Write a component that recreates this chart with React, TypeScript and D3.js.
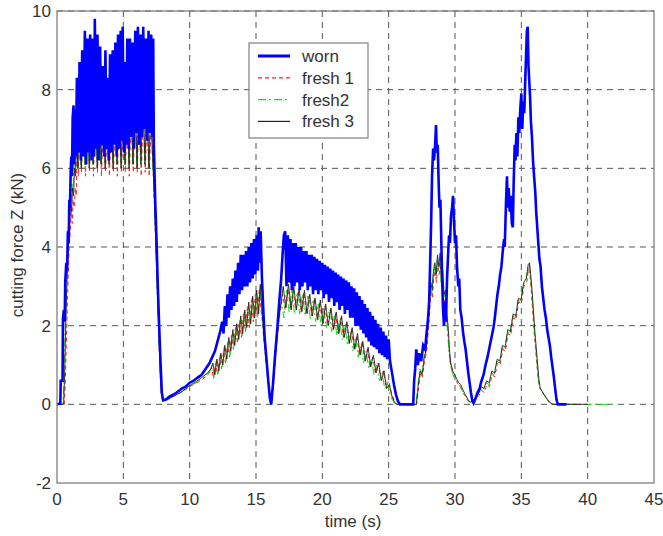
import React from "react";
import * as d3 from "d3";

type Pt = [number, number];

const xTicks = [0, 5, 10, 15, 20, 25, 30, 35, 40, 45];
const yTicks = [-2, 0, 2, 4, 6, 8, 10];
const seriesNames = ["worn", "fresh 1", "fresh2", "fresh 3"];

// worn tool, cutting force Z (kN) vs time (s)
const worn: Pt[] = [
  [0,0],[0.25,0.02],[0.28,0.6],[0.42,0.6],[0.45,2.2],[0.52,2.4],[0.58,2.1],[0.62,3.1],[0.7,3.6],[0.76,3.4],[0.82,4.4],[0.88,4.1],[0.93,5.2],[0.98,5.0],[1.03,5.9],[1.08,6.3],[1.13,5.8],[1.18,7.3],[1.25,7.6],[1.3,6.1],[1.36,7.5],[1.42,6.3],
  [1.5,8.3],[1.6,6.4],[1.7,8.7],[1.8,6.2],[1.9,9.0],[2.0,6.3],[2.1,9.5],[2.2,6.1],[2.3,9.3],[2.4,6.4],[2.5,9.4],[2.6,6.2],[2.7,9.3],[2.8,6.3],[2.85,9.8],[2.95,6.5],[3.05,9.4],[3.15,6.2],[3.25,9.1],[3.35,6.6],[3.45,8.6],[3.55,6.3],[3.65,9.0],[3.75,6.5],[3.8,8.3],[3.9,6.2],[4.0,8.9],[4.1,6.4],[4.2,9.0],[4.3,6.6],[4.4,9.2],[4.5,6.3],[4.6,9.4],[4.7,6.5],[4.8,9.5],[4.9,6.7],[4.95,9.6],[5.05,6.4],[5.12,8.7],[5.2,6.6],[5.3,9.3],[5.4,6.5],[5.5,9.3],[5.6,6.8],[5.7,9.2],[5.8,6.5],[5.9,9.5],[6.0,6.9],[6.1,9.6],[6.2,6.6],[6.3,9.4],[6.4,6.8],[6.5,9.6],[6.6,7.0],[6.7,9.3],[6.8,6.7],[6.9,9.5],[7.0,6.9],[7.1,9.4],[7.2,6.8],[7.25,9.3],
  [7.3,6.6],[7.4,5.2],[7.5,4.2],[7.6,3.0],[7.7,2.0],[7.8,1.1],[7.9,0.3],[8.0,0.1],[8.2,0.12],[8.5,0.2],[8.8,0.25],[9.1,0.32],[9.4,0.4],[9.7,0.45],[10.0,0.55],[10.3,0.6],[10.6,0.68],[10.9,0.75],[11.2,0.9],[11.5,1.05],[11.7,1.2],[11.9,1.35],[12.1,1.6],[12.3,1.85],
  [12.45,2.1],[12.55,1.8],[12.65,2.5],[12.75,2.0],[12.85,2.8],[12.95,2.2],[13.05,3.0],[13.15,2.4],[13.25,3.2],[13.35,2.5],[13.45,3.4],[13.55,2.6],[13.65,3.6],[13.75,2.8],[13.85,3.8],[13.95,2.9],[14.05,3.8],[14.15,3.0],[14.25,3.9],[14.35,3.0],[14.45,4.0],[14.55,3.1],[14.65,4.1],[14.75,3.2],[14.85,4.2],[14.95,3.3],[15.05,4.3],[15.15,3.4],[15.2,4.5],[15.28,3.6],[15.35,4.4],
  [15.45,3.2],[15.55,2.4],[15.65,1.7],[15.75,1.3],[15.85,0.9],[15.95,0.5],[16.05,0.15],[16.15,0.0],[16.3,0.6],[16.45,1.3],[16.6,1.9],[16.75,2.6],[16.9,3.2],[17.0,3.8],[17.1,4.3],[17.2,4.4],
  [17.3,3.0],[17.4,4.3],[17.5,3.1],[17.6,4.2],[17.7,2.9],[17.8,4.1],[17.9,3.0],[18.0,4.1],[18.1,3.1],[18.2,4.0],[18.3,2.9],[18.4,4.0],[18.5,3.0],[18.6,3.9],[18.7,3.1],[18.8,3.9],[18.9,2.9],[19.0,3.8],[19.1,3.0],[19.2,3.8],[19.3,2.8],[19.4,3.75],[19.5,2.9],[19.6,3.7],[19.7,2.8],[19.8,3.65],[19.9,2.9],[20.0,3.6],[20.1,2.7],[20.2,3.55],[20.3,2.8],[20.4,3.5],[20.5,2.6],[20.6,3.45],[20.7,2.7],[20.8,3.4],[20.9,2.5],[21.0,3.35],[21.1,2.6],[21.2,3.3],[21.3,2.4],[21.4,3.25],[21.5,2.5],[21.6,3.2],[21.7,2.3],[21.8,3.15],[21.9,2.4],[22.0,3.1],[22.1,2.2],[22.2,3.0],[22.3,2.2],[22.4,2.95],[22.5,2.0],[22.6,2.85],[22.7,2.0],[22.8,2.75],[22.9,1.9],[23.0,2.65],[23.1,1.8],[23.2,2.55],[23.3,1.7],[23.4,2.45],[23.5,1.6],[23.6,2.35],[23.7,1.5],[23.8,2.25],[23.9,1.45],[24.0,2.15],[24.1,1.4],[24.2,2.05],[24.3,1.3],[24.4,1.95],[24.5,1.25],[24.6,1.85],[24.7,1.2],[24.8,1.75],[24.9,1.15],[25.0,1.65],[25.1,1.1],
  [25.25,0.8],[25.4,0.5],[25.55,0.25],[25.7,0.08],[25.85,0],[26.85,0],[26.92,0.6],[27.0,0.9],[27.08,1.4],[27.2,1.0],[27.3,1.3],[27.45,1.1],[27.6,1.5],[27.75,1.4],[27.85,1.8],[27.95,2.1],[28.05,2.6],[28.12,3.5],[28.2,4.6],[28.27,5.8],[28.35,6.5],[28.42,6.2],[28.5,6.6],[28.57,7.1],[28.63,6.4],[28.7,6.6],[28.77,5.6],[28.83,5.0],[28.9,5.2],[28.97,4.1],[29.03,3.2],[29.1,2.4],[29.17,2.0],[29.25,2.6],[29.32,2.1],[29.4,3.2],[29.48,3.8],[29.55,4.3],[29.62,4.1],[29.7,4.8],[29.78,5.0],[29.85,5.3],[29.92,4.7],[30.0,4.1],[30.08,4.3],[30.15,3.5],[30.25,3.0],[30.32,3.2],[30.4,2.4],[30.5,2.2],[30.6,1.85],[30.7,1.6],[30.8,1.4],[30.9,1.1],[31.0,0.8],[31.1,0.55],[31.2,0.3],[31.3,0.1],[31.4,0.03],
  [31.55,0.15],[31.7,0.3],[31.85,0.4],[32.0,0.6],[32.15,0.75],[32.3,1.0],[32.45,1.2],[32.6,1.45],[32.75,1.7],[32.9,1.95],[33.0,2.2],[33.1,2.5],[33.2,2.8],[33.3,3.0],[33.4,3.3],[33.5,3.5],[33.6,3.9],[33.7,4.2],[33.75,4.0],[33.8,4.6],[33.85,5.2],[33.92,5.8],[33.97,5.0],[34.05,5.5],[34.12,4.9],[34.2,5.3],[34.28,4.6],[34.36,4.5],[34.42,5.6],[34.5,6.6],[34.56,6.2],[34.63,6.9],[34.7,6.3],[34.78,7.3],[34.85,6.9],[34.92,7.5],[35.0,7.9],[35.07,7.0],[35.15,7.7],[35.22,7.4],[35.3,8.3],[35.37,9.0],[35.42,9.5],[35.48,9.6],[35.54,8.6],[35.6,8.2],[35.66,7.8],[35.72,7.2],[35.8,6.8],[35.88,6.2],[35.96,5.8],[36.05,5.4],[36.12,4.9],[36.2,4.5],[36.28,4.1],[36.36,3.7],[36.45,3.5],[36.55,3.0],[36.65,2.7],[36.75,2.4],[36.85,2.2],[36.95,1.9],[37.05,1.7],[37.15,1.5],[37.25,1.2],[37.35,0.95],[37.45,0.7],[37.55,0.4],[37.65,0.12],[37.75,0],[38.4,0],
];

const fresh1: Pt[] = [
  [0,0],[0.55,0],[0.62,0.5],[0.7,1.5],[0.78,2.5],[0.85,3.3],[0.92,4.0],[1.0,4.4],[1.08,4.9],[1.15,4.6],[1.22,5.2],[1.3,5.0],[1.38,5.5],[1.45,5.3],[1.52,6.6],[1.6,5.8],
  [1.7,7.1],[1.85,5.9],[2.0,7.5],[2.15,5.8],[2.3,7.6],[2.45,5.9],[2.6,7.4],[2.75,5.8],[2.9,7.7],[3.05,5.9],[3.2,7.5],[3.35,5.8],[3.5,7.2],[3.65,5.9],[3.8,7.0],[3.95,5.8],[4.1,7.2],[4.25,5.9],[4.4,7.4],[4.55,5.8],[4.7,7.5],[4.85,5.9],[5.0,7.3],[5.15,5.9],[5.3,7.6],[5.45,5.8],[5.6,7.5],[5.75,5.9],[5.9,7.7],[6.05,5.9],[6.2,7.6],[6.35,5.8],[6.5,7.5],[6.65,5.9],[6.8,7.4],[6.95,5.8],[7.1,7.2],[7.25,5.9],
  [7.35,5.0],[7.45,4.0],[7.55,3.0],[7.65,2.0],[7.75,1.0],[7.85,0.3],[8.0,0.1],[8.4,0.12],[8.8,0.2],[9.2,0.28],[9.6,0.35],[10.0,0.45],[10.4,0.52],[10.8,0.6],[11.2,0.7],[11.5,0.8],
  [11.65,0.95],[11.8,0.65],[11.95,1.05],[12.1,0.75],[12.25,1.2],[12.4,0.9],[12.55,1.35],[12.7,1.05],[12.85,1.55],[13.0,1.2],[13.15,1.75],[13.3,1.4],[13.45,1.95],[13.6,1.55],[13.75,2.1],[13.9,1.7],[14.05,2.3],[14.2,1.85],[14.35,2.45],[14.5,1.95],[14.65,2.65],[14.8,2.1],[14.95,2.8],[15.1,2.2],[15.25,2.95],[15.35,2.5],
  [15.45,2.2],[15.6,1.6],[15.75,1.1],[15.9,0.6],[16.05,0.15],[16.15,0.0],[16.3,0.5],[16.45,1.1],[16.6,1.7],[16.75,2.2],[16.9,2.5],
  [17.0,2.8],[17.2,2.4],[17.4,2.95],[17.6,2.45],[17.8,2.9],[18.0,2.4],[18.2,2.9],[18.4,2.35],[18.6,2.85],[18.8,2.3],[19.0,2.75],[19.2,2.25],[19.4,2.7],[19.6,2.2],[19.8,2.6],[20.0,2.1],[20.2,2.5],[20.4,2.0],[20.6,2.4],[20.8,1.9],[21.0,2.3],[21.2,1.8],[21.4,2.2],[21.6,1.7],[21.8,2.05],[22.0,1.55],[22.2,1.9],[22.4,1.4],[22.6,1.75],[22.8,1.25],[23.0,1.6],[23.2,1.1],[23.4,1.4],[23.6,0.95],[23.8,1.2],[24.0,0.8],[24.2,1.05],[24.4,0.65],[24.6,0.85],[24.8,0.45],[25.0,0.6],[25.2,0.3],[25.4,0.12],[25.6,0],
  [27.1,0],[27.25,0.4],[27.4,0.8],[27.55,0.7],[27.7,1.1],[27.85,1.3],[28.0,1.9],[28.1,2.4],[28.2,2.9],[28.3,2.7],[28.4,3.2],[28.5,3.4],[28.6,3.1],[28.7,3.6],[28.8,3.3],[28.9,3.5],[29.0,3.0],[29.1,3.1],[29.2,2.6],[29.3,2.7],[29.4,2.1],[29.5,1.7],[29.6,1.2],[29.7,0.95],[29.85,0.75],[30.0,0.65],[30.15,0.55],[30.3,0.5],[30.45,0.4],[30.6,0.3],[30.8,0.2],[31.0,0.08],[31.2,0.05],[31.4,0.1],[31.6,0.15],[31.8,0.22],
  [32.0,0.35],[32.2,0.3],[32.4,0.5],[32.6,0.45],[32.8,0.75],[33.0,0.7],[33.2,1.05],[33.4,1.0],[33.6,1.4],[33.8,1.35],[34.0,1.8],[34.2,1.75],[34.4,2.2],[34.6,2.15],[34.8,2.6],[35.0,2.55],[35.2,3.0],[35.4,3.1],[35.55,3.45],[35.65,3.3],[35.75,2.9],[35.85,2.4],[35.95,1.9],[36.05,1.5],[36.15,1.1],[36.25,0.7],[36.35,0.45],[36.5,0.35],[36.7,0.25],[36.9,0.15],[37.1,0.05],[37.3,0],[39.5,0],
];

const fresh2: Pt[] = [
  [0,0],[0.45,0],[0.52,0.6],[0.6,1.8],[0.68,2.9],[0.75,3.6],[0.82,4.3],[0.9,4.7],[0.97,5.2],[1.05,5.0],[1.12,5.6],[1.2,5.4],[1.28,6.1],[1.36,5.9],[1.45,6.8],[1.55,6.0],
  [1.65,7.3],[1.8,6.1],[1.95,7.6],[2.1,6.0],[2.25,7.8],[2.4,6.2],[2.55,7.6],[2.7,6.1],[2.85,7.9],[3.0,6.2],[3.15,7.7],[3.3,6.1],[3.45,7.4],[3.6,6.2],[3.75,7.2],[3.9,6.1],[4.05,7.3],[4.2,6.2],[4.35,7.5],[4.5,6.1],[4.65,7.7],[4.8,6.2],[4.95,7.5],[5.1,6.1],[5.25,7.8],[5.4,6.2],[5.55,7.6],[5.7,6.1],[5.85,7.9],[6.0,6.2],[6.15,7.8],[6.3,6.1],[6.45,7.7],[6.6,6.3],[6.75,7.6],[6.9,6.1],[7.05,7.4],[7.2,6.2],
  [7.3,5.6],[7.4,4.6],[7.5,3.5],[7.6,2.5],[7.7,1.5],[7.8,0.6],[7.9,0.15],[8.1,0.1],[8.5,0.15],[8.9,0.22],[9.3,0.3],[9.7,0.38],[10.1,0.48],[10.5,0.55],[10.9,0.65],[11.3,0.75],[11.55,0.85],
  [11.7,1.0],[11.85,0.7],[12.0,1.1],[12.15,0.8],[12.3,1.25],[12.45,0.95],[12.6,1.45],[12.75,1.1],[12.9,1.6],[13.05,1.25],[13.2,1.8],[13.35,1.45],[13.5,2.0],[13.65,1.6],[13.8,2.15],[13.95,1.75],[14.1,2.35],[14.25,1.9],[14.4,2.5],[14.55,2.0],[14.7,2.7],[14.85,2.15],[15.0,2.85],[15.15,2.25],[15.3,3.0],
  [15.45,2.3],[15.6,1.7],[15.75,1.2],[15.9,0.7],[16.05,0.2],[16.15,0.02],[16.3,0.6],[16.45,1.2],[16.6,1.8],[16.75,2.3],[16.9,2.6],
  [17.1,2.2],[17.3,2.9],[17.5,2.35],[17.7,2.95],[17.9,2.3],[18.1,2.85],[18.3,2.3],[18.5,2.8],[18.7,2.25],[18.9,2.75],[19.1,2.15],[19.3,2.65],[19.5,2.1],[19.7,2.55],[19.9,2.0],[20.1,2.45],[20.3,1.95],[20.5,2.35],[20.7,1.85],[20.9,2.25],[21.1,1.75],[21.3,2.15],[21.5,1.65],[21.7,2.0],[21.9,1.5],[22.1,1.85],[22.3,1.35],[22.5,1.7],[22.7,1.2],[22.9,1.5],[23.1,1.05],[23.3,1.35],[23.5,0.9],[23.7,1.15],[23.9,0.75],[24.1,1.0],[24.3,0.6],[24.5,0.8],[24.7,0.4],[24.9,0.55],[25.1,0.25],[25.3,0.1],[25.5,0],
  [27.05,0],[27.2,0.5],[27.35,0.9],[27.5,0.8],[27.65,1.2],[27.8,1.5],[27.95,2.0],[28.05,2.5],[28.15,3.0],[28.25,2.8],[28.35,3.3],[28.45,3.5],[28.55,3.2],[28.65,3.7],[28.75,3.4],[28.85,3.6],[28.95,3.1],[29.05,3.2],[29.15,2.7],[29.25,2.8],[29.35,2.2],[29.45,1.8],[29.55,1.3],[29.65,1.0],[29.8,0.8],[29.95,0.7],[30.1,0.6],[30.25,0.55],[30.4,0.45],[30.55,0.35],[30.75,0.22],[30.95,0.1],[31.15,0.05],[31.35,0.12],[31.55,0.18],[31.75,0.25],
  [31.95,0.4],[32.15,0.35],[32.35,0.55],[32.55,0.5],[32.75,0.8],[32.95,0.75],[33.15,1.1],[33.35,1.05],[33.55,1.45],[33.75,1.4],[33.95,1.85],[34.15,1.8],[34.35,2.25],[34.55,2.2],[34.75,2.65],[34.95,2.6],[35.15,3.05],[35.35,3.15],[35.5,3.5],[35.6,3.55],[35.7,3.2],[35.8,2.8],[35.9,2.3],[36.0,1.8],[36.1,1.4],[36.2,1.0],[36.3,0.6],[36.4,0.4],[36.55,0.32],[36.75,0.22],[36.95,0.12],[37.15,0.03],[37.35,0],[42,0],
];

const fresh3: Pt[] = [
  [0,0],[0.5,0],[0.57,0.7],[0.65,1.9],[0.72,2.8],[0.8,3.5],[0.87,4.2],[0.95,4.6],[1.02,5.1],[1.1,4.9],[1.17,5.5],[1.25,5.3],[1.32,6.0],[1.4,5.8],[1.48,6.9],[1.58,6.0],
  [1.68,7.5],[1.83,6.0],[1.98,7.8],[2.13,6.1],[2.28,8.0],[2.43,6.0],[2.58,7.8],[2.73,6.1],[2.88,8.1],[3.03,6.0],[3.18,7.9],[3.33,6.1],[3.48,7.6],[3.63,6.0],[3.78,7.4],[3.93,6.1],[4.08,7.5],[4.23,6.0],[4.38,7.7],[4.53,6.1],[4.68,7.9],[4.83,6.0],[4.98,7.7],[5.13,6.1],[5.28,8.0],[5.43,6.0],[5.58,7.8],[5.73,6.1],[5.88,8.1],[6.03,6.0],[6.18,8.0],[6.33,6.1],[6.48,7.9],[6.63,6.1],[6.78,7.8],[6.93,6.0],[7.08,7.6],[7.23,6.1],
  [7.33,5.4],[7.43,4.3],[7.53,3.3],[7.63,2.3],[7.73,1.3],[7.83,0.5],[7.95,0.12],[8.1,0.1],[8.5,0.16],[8.9,0.23],[9.3,0.3],[9.7,0.4],[10.1,0.5],[10.5,0.58],[10.9,0.68],[11.3,0.78],[11.6,0.9],
  [11.75,1.05],[11.9,0.75],[12.05,1.15],[12.2,0.85],[12.35,1.3],[12.5,1.0],[12.65,1.5],[12.8,1.15],[12.95,1.7],[13.1,1.35],[13.25,1.9],[13.4,1.5],[13.55,2.05],[13.7,1.65],[13.85,2.25],[14.0,1.8],[14.15,2.4],[14.3,1.95],[14.45,2.6],[14.6,2.05],[14.75,2.75],[14.9,2.2],[15.05,2.9],[15.2,2.3],[15.32,3.05],
  [15.45,2.4],[15.6,1.8],[15.75,1.2],[15.9,0.7],[16.05,0.2],[16.15,0.01],[16.3,0.55],[16.45,1.15],[16.6,1.75],[16.75,2.25],[16.9,2.6],
  [17.05,3.0],[17.25,2.45],[17.45,3.05],[17.65,2.4],[17.85,3.0],[18.05,2.4],[18.25,2.95],[18.45,2.35],[18.65,2.9],[18.85,2.3],[19.05,2.8],[19.25,2.25],[19.45,2.7],[19.65,2.15],[19.85,2.65],[20.05,2.05],[20.25,2.55],[20.45,2.0],[20.65,2.45],[20.85,1.9],[21.05,2.35],[21.25,1.8],[21.45,2.25],[21.65,1.7],[21.85,2.1],[22.05,1.55],[22.25,1.95],[22.45,1.4],[22.65,1.8],[22.85,1.25],[23.05,1.6],[23.25,1.1],[23.45,1.45],[23.65,0.95],[23.85,1.25],[24.05,0.8],[24.25,1.05],[24.45,0.6],[24.65,0.85],[24.85,0.4],[25.05,0.5],[25.25,0.2],[25.45,0.05],[25.6,0],
  [27.1,0],[27.22,0.45],[27.37,0.85],[27.52,0.75],[27.67,1.15],[27.82,1.4],[27.97,2.0],[28.08,2.6],[28.18,3.1],[28.28,2.9],[28.38,3.4],[28.48,3.6],[28.58,3.3],[28.68,3.8],[28.78,3.5],[28.88,3.85],[28.98,3.3],[29.08,3.4],[29.18,2.8],[29.28,2.9],[29.38,2.3],[29.48,2.0],[29.58,1.4],[29.68,1.05],[29.83,0.85],[29.98,0.75],[30.13,0.65],[30.28,0.55],[30.43,0.5],[30.58,0.38],[30.78,0.25],[30.98,0.12],[31.18,0.05],[31.38,0.1],[31.58,0.18],[31.78,0.28],
  [31.98,0.45],[32.18,0.4],[32.38,0.6],[32.58,0.55],[32.78,0.85],[32.98,0.8],[33.18,1.15],[33.38,1.1],[33.58,1.5],[33.78,1.45],[33.98,1.9],[34.18,1.85],[34.38,2.3],[34.58,2.25],[34.78,2.7],[34.98,2.65],[35.18,3.1],[35.38,3.2],[35.52,3.55],[35.62,3.6],[35.72,3.25],[35.82,2.85],[35.92,2.35],[36.02,1.85],[36.12,1.45],[36.22,1.05],[36.32,0.65],[36.42,0.42],[36.57,0.33],[36.77,0.22],[36.97,0.12],[37.17,0.04],[37.37,0],[40,0],
];

const styles = [
  { color: "#0000ff", width: 2.6, dash: "" },
  { color: "#ff2020", width: 1, dash: "4,3" },
  { color: "#10e010", width: 1, dash: "8,3,2,3" },
  { color: "#222222", width: 0.9, dash: "" },
];

const W = 663;
const H = 536;
const left = 57, right = 654, top = 11, bottom = 483;
const font = "'Liberation Sans', Arial, sans-serif";

export default function App() {
  const x = d3.scaleLinear().domain([0, 45]).range([left, right]);
  const y = d3.scaleLinear().domain([-2, 10]).range([bottom, top]);
  const line = d3.line<Pt>().x((d) => x(d[0])).y((d) => y(d[1]));
  const series = [worn, fresh1, fresh2, fresh3];
  // fresh curves first so the thick worn trace sits on top
  const order = [1, 2, 3, 0];

  return (
    <svg
      width={W}
      height={H}
      style={{ position: "absolute", left: 0, top: 0, background: "white" }}
      fontFamily={font}
    >
      <rect x={0} y={0} width={W} height={H} fill="white" />
      <g stroke="#555" strokeWidth={1} strokeDasharray="6,5">
        {xTicks.slice(1, -1).map((t) => (
          <line key={"gx" + t} x1={x(t)} x2={x(t)} y1={top} y2={bottom} />
        ))}
        {yTicks.slice(1).map((t) => (
          <line key={"gy" + t} x1={left} x2={right} y1={y(t)} y2={y(t)} />
        ))}
      </g>
      <clipPath id="plot">
        <rect x={left} y={top - 2} width={right - left} height={bottom - top + 2} />
      </clipPath>
      <g clipPath="url(#plot)" fill="none" strokeLinejoin="miter">
        {order.map((i) => (
          <path
            key={seriesNames[i]}
            d={line(series[i]) || ""}
            stroke={styles[i].color}
            strokeWidth={styles[i].width}
            strokeDasharray={styles[i].dash || undefined}
          />
        ))}
      </g>
      <rect x={left} y={top} width={right - left} height={bottom - top} fill="none" stroke="#808080" strokeWidth={1.3} />
      <g fill="#333" fontSize={17}>
        {xTicks.map((t) => (
          <text key={"tx" + t} x={x(t)} y={bottom + 22} textAnchor="middle">{t}</text>
        ))}
        {yTicks.map((t) => (
          <text key={"ty" + t} x={left - 6} y={y(t) + 6} textAnchor="end">{t}</text>
        ))}
        <text x={353} y={527} textAnchor="middle">time (s)</text>
        <text transform="translate(23,245) rotate(-90)" textAnchor="middle">cutting force Z (kN)</text>
      </g>
      <g>
        <rect x={249} y={43} width={119} height={95} fill="white" stroke="#808080" strokeWidth={1.2} />
        {seriesNames.map((n, i) => (
          <g key={"lg" + n}>
            <line
              x1={258}
              x2={290}
              y1={56 + i * 21.8}
              y2={56 + i * 21.8}
              stroke={styles[i].color}
              strokeWidth={i === 0 ? 3 : 1.2}
              strokeDasharray={styles[i].dash || undefined}
            />
            <text x={302} y={56 + i * 21.8 + 6} fontSize={17} fill="#333">{n}</text>
          </g>
        ))}
      </g>
    </svg>
  );
}
